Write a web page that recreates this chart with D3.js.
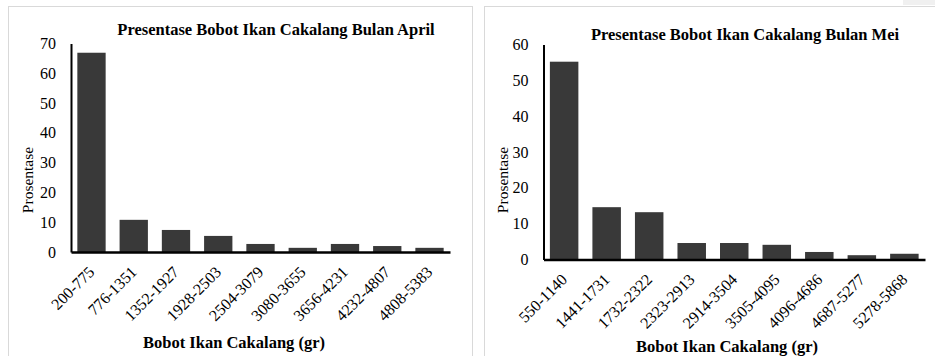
<!DOCTYPE html>
<html>
<head>
<meta charset="utf-8">
<script src="https://cdn.jsdelivr.net/npm/d3@7"></script>
<style>
    body { margin: 0; background: #fff; }
    svg text { font-family: "Liberation Serif", "Times New Roman", serif; fill: #000; }
    .title, .x-title { font-weight: bold; }
</style>
</head>
<body>
<div id="chart"></div>
<script>
// April data
let aprilCategories = ["200-775", "776-1351", "1352-1927", "1928-2503", "2504-3079", "3080-3655", "3656-4231", "4232-4807", "4808-5383"];
let aprilValues = [66.9, 10.8, 7.4, 5.4, 2.7, 1.4, 2.7, 2.0, 1.4];
let aprilTicks = [0, 10, 20, 30, 40, 50, 60, 70];

// May data
let meiCategories = ["550-1140", "1441-1731", "1732-2322", "2323-2913", "2914-3504", "3505-4095", "4096-4686", "4687-5277", "5278-5868"];
let meiValues = [55.2, 14.6, 13.2, 4.6, 4.6, 4.1, 2.1, 1.2, 1.6];
let meiTicks = [0, 10, 20, 30, 40, 50, 60];

const FONT = "'Liberation Serif', 'Times New Roman', serif";

let svg = d3.select("#chart").append("svg")
    .attr("width", 935)
    .attr("height", 356);

// panel borders
svg.append("rect").attr("x", 8.5).attr("y", 6.5).attr("width", 464).attr("height", 360)
    .attr("fill", "none").attr("stroke", "#d9d9d9");
svg.append("rect").attr("x", 484.5).attr("y", 6.5).attr("width", 460).attr("height", 360)
    .attr("fill", "none").attr("stroke", "#d9d9d9");
svg.append("rect").attr("x", 903).attr("y", 0).attr("width", 32).attr("height", 5)
    .attr("fill", "#f0f0f0");

function drawChart(opt) {
    let g = svg.append("g");

    let x = d3.scaleBand()
        .domain(opt.categories)
        .range([opt.left, opt.right])
        .paddingInner(0.33)
        .paddingOuter(0.15);

    let y = d3.scaleLinear()
        .domain([0, d3.max(opt.ticks)])
        .range([opt.bottom, opt.top]);

    // bars
    g.selectAll(".bar")
        .data(opt.values)
        .enter().append("rect")
        .attr("class", "bar")
        .attr("x", (d, i) => x(opt.categories[i]))
        .attr("width", x.bandwidth())
        .attr("y", d => y(d))
        .attr("height", d => opt.bottom - y(d))
        .attr("fill", "#393939");

    // y axis
    let yAxis = d3.axisLeft(y).tickValues(opt.ticks).tickSize(0).tickPadding(15);
    let ya = g.append("g")
        .attr("class", "y-axis")
        .attr("transform", "translate(" + opt.left + ",0)")
        .call(yAxis)
        .attr("font-family", FONT)
        .attr("font-size", 16);
    ya.select(".domain").attr("stroke", "#000").attr("stroke-width", 2);

    // x axis, labels slanted 45 degrees
    let xAxis = d3.axisBottom(x).tickSize(0);
    let xa = g.append("g")
        .attr("class", "x-axis")
        .attr("transform", "translate(0," + opt.bottom + ")")
        .call(xAxis)
        .attr("font-family", FONT)
        .attr("font-size", 16);
    xa.select(".domain").attr("stroke", "#000").attr("stroke-width", 2.5);
    xa.selectAll("text")
        .attr("text-anchor", "end")
        .attr("dy", null)
        .attr("y", 0)
        .attr("transform", "translate(4,21) rotate(-45)");

    // titles
    g.append("text")
        .attr("class", "title")
        .attr("x", opt.titleX)
        .attr("y", opt.titleY)
        .attr("text-anchor", "middle")
        .style("font-size", "16.5px")
        .text(opt.title);

    g.append("text")
        .attr("class", "x-title")
        .attr("x", opt.xTitleX)
        .attr("y", opt.xTitleY)
        .attr("text-anchor", "middle")
        .style("font-size", "16.5px")
        .text("Bobot Ikan Cakalang (gr)");

    g.append("text")
        .attr("transform", "translate(" + opt.yTitleX + ",180) rotate(-90)")
        .attr("text-anchor", "middle")
        .style("font-size", "15.5px")
        .text("Prosentase");
}

drawChart({
    categories: aprilCategories, values: aprilValues, ticks: aprilTicks,
    left: 71, right: 450, top: 43.5, bottom: 252,
    title: "Presentase Bobot Ikan Cakalang Bulan April", titleX: 276, titleY: 35,
    xTitleX: 234, xTitleY: 348, yTitleX: 33
});

drawChart({
    categories: meiCategories, values: meiValues, ticks: meiTicks,
    left: 543.5, right: 925, top: 44.5, bottom: 259.5,
    title: "Presentase Bobot Ikan Cakalang Bulan Mei", titleX: 745, titleY: 40,
    xTitleX: 727, xTitleY: 352, yTitleX: 508
});
</script>
</body>
</html>
